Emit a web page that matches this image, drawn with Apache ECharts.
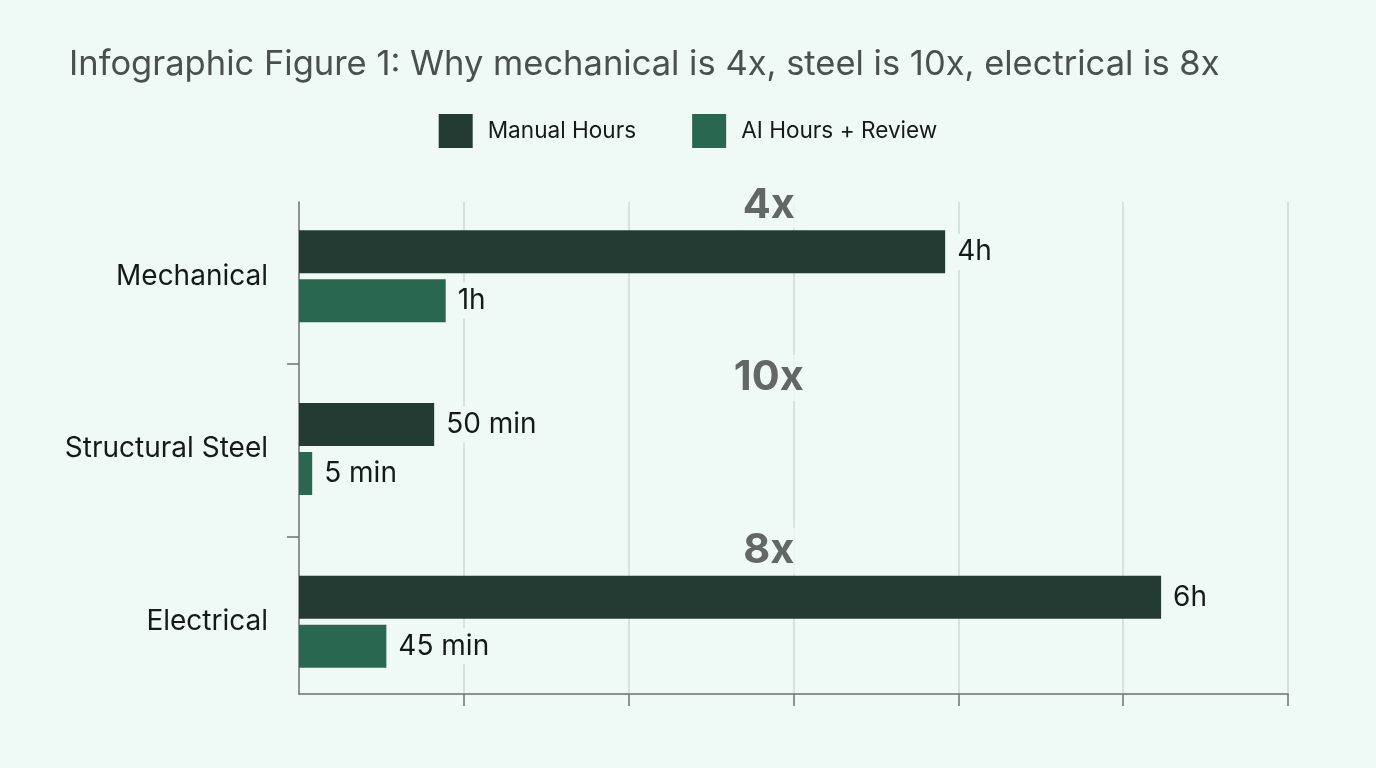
<!DOCTYPE html>
<html>
<head>
<meta charset="utf-8">
<title>Infographic Figure 1</title>
<script src="https://cdn.jsdelivr.net/npm/echarts@6/dist/echarts.min.js"></script>
<style>
  html, body { margin: 0; padding: 0; background: #eff9f6; }
  #chart { width: 1376px; height: 768px; }
</style>
</head>
<body>
<div id="chart"></div>
<script>
// categories, top to bottom
var categories = ['Mechanical', 'Structural Steel', 'Electrical'];
// bar lengths (axis units, one gridline = 1)
var manualValues = [3.92, 0.82, 5.23];
var aiValues = [0.89, 0.08, 0.53];
// text printed at the end of each bar
var manualLabels = ['4h', '50 min', '6h'];
var aiLabels = ['1h', '5 min', '45 min'];
// speed-up printed above each group
var ratioLabels = ['4x', '10x', '8x'];
var ratioX = [2.85, 2.85, 2.85];
// ticks of the frame
var xTicks = [1, 2, 3, 4, 5, 6];
var yTicks = [0.5, 1.5];

var bg = '#eff9f6';
var font = 'Inter';
var ink = '#151a18';

var myChart = echarts.init(document.getElementById('chart'));

var option = {
    backgroundColor: bg,
    animation: false,
    title: {
        text: 'Infographic Figure 1: Why mechanical is 4x, steel is 10x, electrical is 8x',
        left: 64,
        top: 42,
        textStyle: {
            fontFamily: font,
            fontSize: 34.5,
            fontWeight: 'normal',
            color: '#4a504e'
        }
    },
    legend: {
        data: ['Manual Hours', 'AI Hours + Review'],
        left: 'center',
        top: 109,
        icon: 'rect',
        itemWidth: 34,
        itemHeight: 34,
        itemGap: 56,
        textStyle: {
            fontFamily: font,
            fontSize: 22.6,
            color: ink,
            padding: [0, 0, 0, 10]
        }
    },
    grid: [
        // bars live here: category bands fill 190..708
        { left: 299, right: 88, top: 190, bottom: 60 },
        // the drawn frame: 202..694
        { left: 299, right: 88, top: 202, bottom: 74 }
    ],
    xAxis: [
        { gridIndex: 0, type: 'value', min: 0, max: 6, show: false },
        {
            gridIndex: 1, type: 'value', min: 0, max: 6, interval: 1,
            axisLine: { show: true, onZero: false, lineStyle: { color: '#6d7270', width: 1.5 } },
            axisTick: { show: true, length: 12, customValues: xTicks, lineStyle: { color: '#6d7270', width: 1.5 } },
            axisLabel: { show: false },
            splitLine: { show: true, lineStyle: { color: '#cfd8d5', width: 1.5 } }
        }
    ],
    yAxis: [
        {
            gridIndex: 0, type: 'category', inverse: true, data: categories,
            axisLine: { show: false },
            axisTick: { show: false },
            axisLabel: { margin: 31, fontFamily: font, fontSize: 28, color: ink }
        },
        {
            gridIndex: 1, type: 'value', inverse: true, min: -0.436, max: 2.413,
            axisLine: { show: true, onZero: false, lineStyle: { color: '#6d7270', width: 1.5 } },
            axisTick: { show: true, length: 12, customValues: yTicks, lineStyle: { color: '#6d7270', width: 1.5 } },
            axisLabel: { show: false },
            splitLine: { show: false }
        }
    ],
    series: [
        {
            name: 'Manual Hours',
            type: 'bar',
            xAxisIndex: 0,
            yAxisIndex: 0,
            data: manualValues,
            barWidth: 43,
            barGap: '14%',
            itemStyle: { color: '#243b33' },
            label: {
                show: true,
                position: 'right',
                distance: 8,
                formatter: function (p) { return manualLabels[p.dataIndex]; },
                fontFamily: font,
                fontSize: 28,
                color: ink,
                backgroundColor: bg,
                padding: [4, 4]
            }
        },
        {
            name: 'AI Hours + Review',
            type: 'bar',
            xAxisIndex: 0,
            yAxisIndex: 0,
            data: aiValues,
            barWidth: 43,
            barGap: '14%',
            itemStyle: { color: '#2a6750' },
            label: {
                show: true,
                position: 'right',
                distance: 8,
                formatter: function (p) { return aiLabels[p.dataIndex]; },
                fontFamily: font,
                fontSize: 28,
                color: ink,
                backgroundColor: bg,
                padding: [4, 4]
            }
        },
        {
            name: 'ratio',
            type: 'scatter',
            xAxisIndex: 0,
            yAxisIndex: 0,
            symbolSize: 1,
            itemStyle: { color: 'rgba(0,0,0,0)' },
            z: 5,
            data: categories.map(function (c, i) { return [ratioX[i], i]; }),
            label: {
                show: true,
                position: 'inside',
                offset: [0, -71],
                formatter: function (p) { return ratioLabels[p.dataIndex]; },
                fontFamily: font,
                fontSize: 41.5,
                fontWeight: 'bold',
                color: '#404443',
                backgroundColor: bg,
                padding: [2, 6]
            }
        }
    ]
};

myChart.setOption(option);
</script>
</body>
</html>
